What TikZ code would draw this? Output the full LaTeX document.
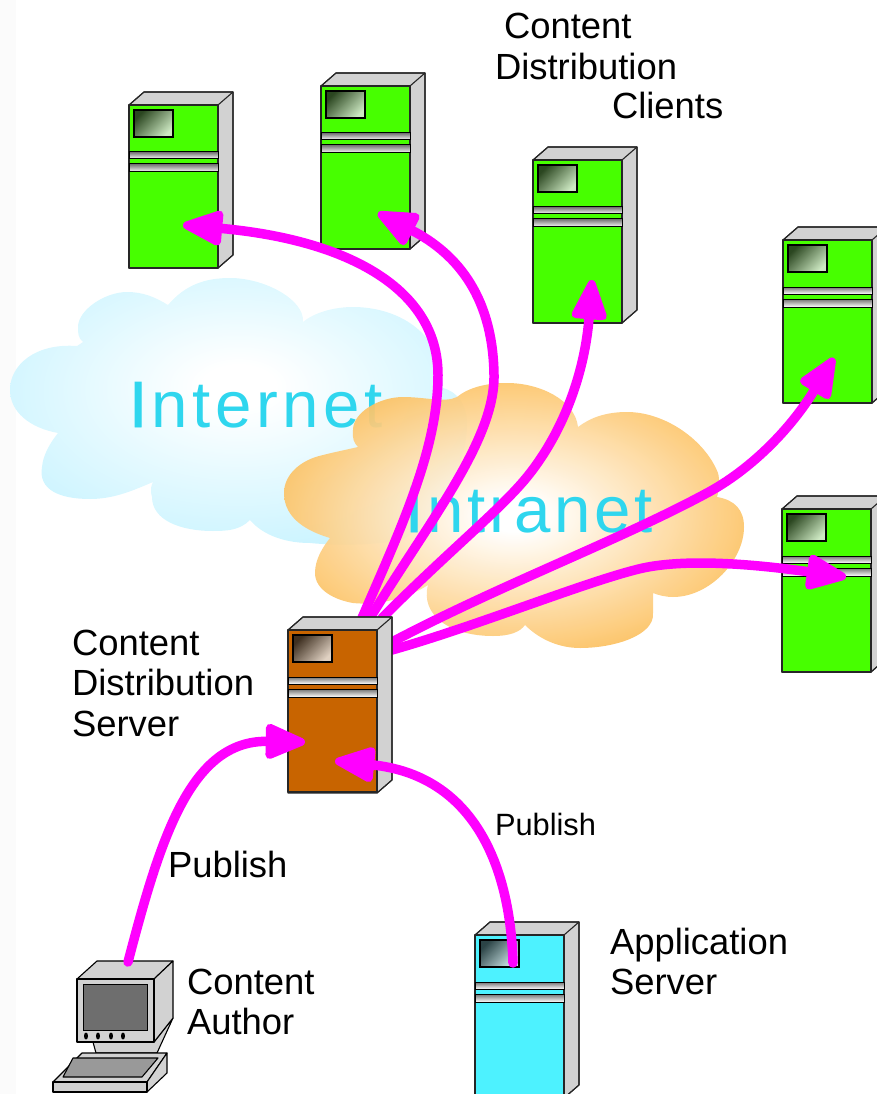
\documentclass[tikz,border=0pt]{standalone}
\usepackage{fontspec}
\setmainfont{Liberation Sans}
\usetikzlibrary{arrows.meta}
\newdimen\pxu \pxu=0.01cm
\definecolor{cgreen}{HTML}{47FF00}
\definecolor{corange}{HTML}{C86400}
\definecolor{ccyan}{HTML}{4DF2FF}
\definecolor{cside}{HTML}{D2D2D2}
\definecolor{cmag}{HTML}{FF00FF}
\definecolor{ctext}{HTML}{2FD6EE}
\definecolor{netA}{HTML}{FFFFFF}
\definecolor{netB}{HTML}{E2F9FF}
\definecolor{netC}{HTML}{BFF1FF}
\definecolor{intB}{HTML}{FEE0B0}
\definecolor{intC}{HTML}{FBAE30}
\pgfdeclareradialshading{netshade}{\pgfpoint{0bp}{5bp}}{color(0bp)=(netA); color(4bp)=(netA); color(18bp)=(netB); color(36bp)=(netC); color(100bp)=(netC)}
\pgfdeclareradialshading{intshade}{\pgfpoint{0bp}{0bp}}{color(0bp)=(netA); color(3bp)=(netA); color(15bp)=(intB); color(34bp)=(intC); color(100bp)=(intC)}
\tikzset{
  unit/.style={draw=black!85,line width=1.1\pxu,line join=round},
  frontbox/.style={unit,fill=#1,anchor=north west,minimum width=89\pxu,inner sep=0pt,outer sep=0pt},
  sidepanel/.style={unit,fill=cside},
  stripe/.style={draw=black,line width=1\pxu,top color=black!55,bottom color=white},
  screenbox/.style={draw=black,line width=2.2\pxu,top color=black!85,bottom color=black!10,shading angle=45,fill opacity=.85,draw opacity=1},
  flow/.style={draw=cmag,line width=9.5\pxu,line cap=round,-{Triangle[length=0.46cm,width=0.37cm,line width=0.08cm,round]}},
  lbl/.style={anchor=base west,inner sep=0pt,outer sep=0pt,font=\fontsize{10.35pt}{11pt}\selectfont},
  lblsmall/.style={anchor=base west,inner sep=0pt,outer sep=0pt,font=\fontsize{8.76pt}{10pt}\selectfont},
  cloudname/.style={anchor=base west,inner sep=0pt,outer sep=0pt,text=ctext,font=\fontsize{18.6pt}{20pt}\selectfont\addfontfeature{LetterSpace=7}},
  pcpart/.style={draw=black,line width=1.1\pxu,line join=round,fill=cside}
}
% name, x, y, height, colour
\newcommand{\srv}[5]{%
  \fill[sidepanel] (#2,#3) -- ++(15,-13) -- ++(89,0) -- ++(0,163) -- ++(-15,13) -- ++(-89,0) -- cycle;
  \draw[unit] (#2+89,#3) -- ++(15,-13);
  \draw[unit] (#2,#3) -- ++(15,-13) -- ++(89,0) -- ++(0,163) -- ++(-15,13);
  \node[frontbox=#5,minimum height=#4\pxu] (#1) at (#2,#3) {};
  \shade[screenbox] (#2+5,#3+5) rectangle (#2+44,#3+32);
  \shade[stripe] (#2,#3+47) rectangle (#2+89,#3+54);
  \shade[stripe] (#2,#3+59) rectangle (#2+89,#3+67);
}
\begin{document}
\begin{tikzpicture}[x=0.01cm,y=-0.01cm]
\useasboundingbox (0,0) rectangle (877,1094);
\clip (0,0) rectangle (877,1094);
\fill[black!1.5] (0,0) rectangle (16,1094);
% Internet cloud
\shade[shading=netshade] (168,305)
 .. controls (185,285) and (205,278) .. (230,278)
 .. controls (265,278) and (305,300) .. (303,322)
 .. controls (315,312) and (335,307) .. (353,307)
 .. controls (395,307) and (443,330) .. (443,388)
 .. controls (458,392) and (467,405) .. (467,425)
 .. controls (467,470) and (430,530) .. (400,540)
 .. controls (375,545) and (340,546) .. (310,543)
 .. controls (280,543) and (260,532) .. (250,520)
 .. controls (240,530) and (228,531) .. (213,531)
 .. controls (180,531) and (152,520) .. (152,497)
 .. controls (150,490) and (151,486) .. (153,482)
 .. controls (130,492) and (112,499) .. (90,499)
 .. controls (60,499) and (38,490) .. (42,467)
 .. controls (43,455) and (50,443) .. (58,433)
 .. controls (30,428) and (10,412) .. (10,390)
 .. controls (10,365) and (35,343) .. (77,346)
 -- (83,342)
 .. controls (78,338) and (78,333) .. (78,327)
 .. controls (78,310) and (105,292) .. (127,292)
 .. controls (143,292) and (155,297) .. (168,305) -- cycle;
\node[cloudname] (inet) at (129,427) {{\addfontfeature{FakeBold=1.5}I}\kern 1.3pt nternet};
% Intranet cloud
\shade[shading=intshade,opacity=.93] (578,427)
 .. controls (575,400) and (540,383) .. (507,383)
 .. controls (485,383) and (468,388) .. (457,397)
 .. controls (445,403) and (425,397) .. (403,397)
 .. controls (380,397) and (353,412) .. (353,430)
 .. controls (352,438) and (354,443) .. (358,447)
 .. controls (345,450) and (335,452) .. (323,455)
 .. controls (300,460) and (284,475) .. (284,493)
 .. controls (284,520) and (310,532) .. (330,538)
 .. controls (322,548) and (315,560) .. (315,573)
 .. controls (315,590) and (335,600) .. (353,603)
 .. controls (380,606) and (410,597) .. (428,585)
 .. controls (420,615) and (450,636) .. (493,636)
 .. controls (510,636) and (520,632) .. (525,625)
 .. controls (540,640) and (560,648) .. (580,648)
 .. controls (615,648) and (655,635) .. (653,613)
 .. controls (653,605) and (653,600) .. (653,593)
 .. controls (658,595) and (665,597) .. (673,597)
 .. controls (710,597) and (744,560) .. (744,527)
 .. controls (744,510) and (735,500) .. (717,497)
 .. controls (719,490) and (720,480) .. (718,473)
 .. controls (705,440) and (665,412) .. (627,412)
 .. controls (605,412) and (590,418) .. (578,427) -- cycle;
\node[cloudname] (inet2) at (405,532) {\addfontfeature{LetterSpace=5.5}{\addfontfeature{FakeBold=1.5}I}\kern 1.3pt ntranet};
% client servers
\srv{cA}{129}{105}{163}{cgreen}
\srv{cB}{321}{86}{163}{cgreen}
\srv{cC}{533}{160}{163}{cgreen}
\srv{cD}{783}{240}{163}{cgreen}
\srv{cE}{782}{509}{163}{cgreen}
% anchors for connectors
\coordinate (s1) at (362,618); \coordinate (s2) at (370,618); \coordinate (s3) at (382,618);
\coordinate (s4) at (392,642); \coordinate (s5) at (392,650);
\coordinate (tA) at (183,225); \coordinate (tB) at (378,213); \coordinate (tC) at (592,280);
\coordinate (tD) at (834,358); \coordinate (tE) at (846,577);
\coordinate (tS1) at (305,742); \coordinate (tS2) at (335,761);
% outgoing
\draw[flow] (s1) .. controls (400,530) and (438,450) .. (438,375) .. controls (438,290) and (350,240) .. (tA);
\draw[flow] (s2) .. controls (430,520) and (495,440) .. (494,375) .. controls (493,300) and (460,255) .. (tB);
\draw[flow] (s3) .. controls (450,550) and (500,510) .. (527,477) .. controls (565,430) and (585,370) .. (tC);
\draw[flow] (s4) .. controls (500,585) and (620,540) .. (707,493) .. controls (750,470) and (790,430) .. (tD);
\draw[flow] (s5) .. controls (480,625) and (590,580) .. (643,568) .. controls (690,558) and (760,565) .. (tE);
% distribution server
\srv{srvS}{288}{630}{162}{corange}
% application server
\srv{srvA}{475}{935}{163}{ccyan}
% computer
\draw[pcpart] (93,1042) -- (96,1053) -- (157,1053) -- (173,1018) -- (154,1042) -- cycle;
\draw[pcpart] (82,1053) -- (167,1053) -- (147,1082) -- (53,1082) -- cycle;
\draw[pcpart,fill=black!40] (73,1058) -- (158,1058) -- (142,1077) -- (63,1077) -- cycle;
\draw[pcpart] (167,1053) -- (167,1073) -- (147,1092) -- (147,1082) -- cycle;
\node[pcpart,anchor=north west,minimum width=94\pxu,minimum height=10\pxu,inner sep=0pt,outer sep=0pt] (pcbase) at (53,1082) {};
\draw[pcpart] (77,979) -- (97,961) -- (173,961) -- (154,979) -- cycle;
\draw[pcpart] (154,979) -- (173,961) -- (173,1018) -- (154,1042) -- cycle;
\node[pcpart,anchor=north west,minimum width=77\pxu,minimum height=63\pxu,inner sep=0pt,outer sep=0pt] (pc) at (77,979) {};
\fill[black!57] (83,984) rectangle (147,1030);
\draw[black,line width=1\pxu] (83,984) rectangle (147,1030);
\foreach \bx in {86,98,111,123} \fill[black] (\bx,1036) ellipse (2 and 3.5);
% incoming
\coordinate (sP) at (128,962); \coordinate (sQ) at (513,963);
\draw[flow] (sP) .. controls (160,840) and (190,740) .. (tS1);
\draw[flow] (sQ) .. controls (510,860) and (470,775) .. (tS2);
% labels
\node[lbl] (l1) at (504,39) {Content};
\node[lbl] (l2) at (495,80) {Distribution};
\node[lbl] (l3) at (612,119) {Clients};
\node[lbl] (l4) at (72,655) {Content};
\node[lbl] (l5) at (72,695) {Distribution};
\node[lbl] (l6) at (72,736) {Server};
\node[lbl] (l7) at (168,877) {Publish};
\node[lblsmall] (l8) at (495,835) {Publish};
\node[lbl] (l9) at (187,994) {Content};
\node[lbl] (l10) at (187,1034) {Author};
\node[lbl] (l11) at (610,954) {Application};
\node[lbl] (l12) at (610,994) {Server};
\end{tikzpicture}
\end{document}
